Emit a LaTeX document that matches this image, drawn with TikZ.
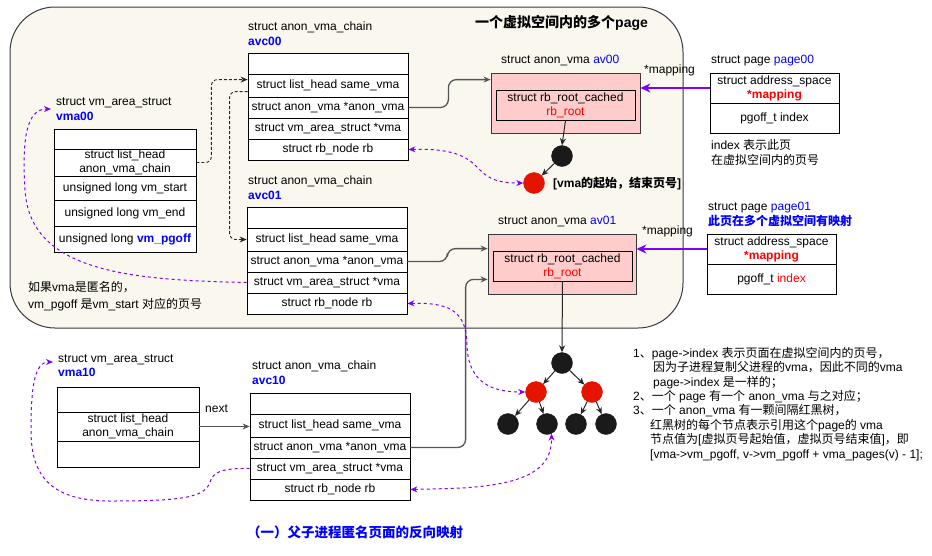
\documentclass[tikz,border=0pt]{standalone}
\usepackage{fontspec}
\setmainfont{Liberation Sans}
\newfontfamily\cjk{Noto Sans CJK SC}
\usetikzlibrary{arrows.meta,calc}
\definecolor{bgbox}{HTML}{F9F7EE}
\definecolor{edgegray}{HTML}{36393D}
\definecolor{pinkf}{HTML}{FFCCCC}
\definecolor{purp}{HTML}{7F00FF}
\definecolor{rbred}{HTML}{E51400}
\definecolor{rbblack}{HTML}{1A1A1A}
\definecolor{lblue}{HTML}{0000FF}
\definecolor{lred}{HTML}{FF0000}
\definecolor{linkgray}{HTML}{555555}
\newcommand\zh[1]{{\cjk #1}}
\newcommand\bl[1]{\textcolor{lblue}{#1}}
\newcommand\fs{\fontsize{12}{14}\selectfont}
\newcommand\tcell[6]{\node[cell, minimum width={(#4-#2)*1pt}, minimum height={(#5-#3)*1pt}] (#1) at ({(#2+#4)/2},{(#3+#5)/2}) {#6};}
\newcommand\lbl[4]{\node[lab] (#1) at (#2,#3) {#4};}
\tikzset{
  cell/.style={draw=black, fill=white, line width=0.8pt, inner sep=0pt, align=center, font=\fs},
  lab/.style={anchor=west, inner sep=0pt, text height=9pt, text depth=2.5pt, font=\fs},
  pinkbox/.style={draw=edgegray, fill=pinkf, line width=0.8pt, inner sep=0pt},
  innerbox/.style={draw=black, fill=pinkf, line width=0.8pt, inner sep=0pt, align=center, font=\fs},
  bnode/.style={circle, fill=rbblack, draw=rbblack, minimum size=21pt, inner sep=0pt},
  rnode/.style={circle, fill=rbred, draw=rbred, minimum size=21pt, inner sep=0pt},
  tip/.style={-{Stealth[length=7pt,width=6pt]}},
  link/.style={draw=linkgray, line width=1.3pt, rounded corners=8pt, tip},
  tarrow/.style={draw=black!85, line width=1pt, tip},
  bdash/.style={draw=black!85, line width=0.9pt, dash pattern=on 3pt off 2pt, rounded corners=6pt},
  pdash/.style={draw=purp, line width=1pt, dash pattern=on 3pt off 3pt},
  ptip/.style={-{Stealth[length=7pt,width=6pt]}},
  pboth/.style={{Stealth[length=7pt,width=6pt]}-{Stealth[length=7pt,width=6pt]}},
  maparrow/.style={draw=purp, line width=2pt, -{Stealth[length=10pt,width=9pt]}},
}
\begin{document}
\begin{tikzpicture}[x=1pt,y=-1pt]
\useasboundingbox (0,0) rectangle (932,555);
\fill[white] (0,0) rectangle (932,555);
% container
\draw[rounded corners=45pt, fill=bgbox, draw=edgegray, line width=1pt] (10,7) rectangle (683,328);
\node[lab, font=\fontsize{14}{16}\selectfont\bfseries, text height=11pt, text depth=3pt] (title) at (475,23) {\zh{一个虚拟空间内的多个}page};

% ---- avc00
\lbl{lavc00a}{248}{27}{struct anon\_vma\_chain}
\lbl{lavc00b}{248}{42}{\bl{\textbf{avc00}}}
\tcell{avc00e}{248}{53}{408}{74}{}
\tcell{avc00s}{248}{74}{408}{97}{struct list\_head same\_vma}
\tcell{avc00a}{248}{97}{408}{118}{struct anon\_vma *anon\_vma}
\tcell{avc00v}{248}{118}{408}{139}{struct vm\_area\_struct *vma}
\tcell{avc00r}{248}{139}{408}{160}{struct rb\_node rb}

% ---- vma00
\lbl{lvma00a}{56}{102}{struct vm\_area\_struct}
\lbl{lvma00b}{56}{117}{\bl{\textbf{vma00}}}
\tcell{vma00e}{54}{129}{196}{149}{}
\tcell{vma00l}{54}{149}{196}{176}{struct list\_head\\anon\_vma\_chain}
\tcell{vma00s}{54}{176}{196}{200}{unsigned long vm\_start}
\tcell{vma00n}{54}{200}{196}{226}{unsigned long vm\_end}
\tcell{vma00p}{54}{226}{196}{252}{unsigned long \bl{\textbf{vm\_pgoff}}}
\coordinate (vma00tip) at (51,109);

% ---- avc01
\lbl{lavc01a}{248}{181}{struct anon\_vma\_chain}
\lbl{lavc01b}{248}{196}{\bl{\textbf{avc01}}}
\tcell{avc01e}{247}{207}{407}{228}{}
\tcell{avc01s}{247}{228}{407}{251}{struct list\_head same\_vma}
\tcell{avc01a}{247}{251}{407}{272}{struct anon\_vma *anon\_vma}
\tcell{avc01v}{247}{272}{407}{293}{struct vm\_area\_struct *vma}
\tcell{avc01r}{247}{293}{407}{314}{struct rb\_node rb}

% note lower-left
\lbl{note1}{28}{288}{\zh{如果}vma\zh{是匿名的，}}
\lbl{note2}{28}{305}{vm\_pgoff \zh{是}vm\_start \zh{对应的页号}}

% ---- av00
\lbl{lav00}{501}{60}{struct anon\_vma \bl{av00}}
\node[pinkbox, minimum width=149pt, minimum height=60pt] (av00) at (565.5,103) {};
\node[innerbox, minimum width=139pt, minimum height=30pt] (av00in) at (565.5,105) {struct rb\_root\_cached\\\textcolor{lred}{rb\_root}};
\node[bnode] (b00) at (562,156) {};
\node[rnode] (r00) at (534,183) {};
\lbl{lr00}{553}{184}{\bfseries [vma\zh{的起始，结束页号}]}
\draw[tarrow] (av00in.south) -- (b00.north);
\draw[tarrow] (b00) -- (r00);

% ---- page00
\lbl{lpage00}{711}{60}{struct page \bl{page00}}
\tcell{p00m}{710}{73}{839}{103}{struct address\_space\\\textcolor{lred}{\textbf{*mapping}}}
\tcell{p00i}{710}{103}{839}{133}{pgoff\_t index}
\lbl{lidx1}{711}{146}{index \zh{表示此页}}
\lbl{lidx2}{711}{161}{\zh{在虚拟空间内的页号}}
\draw[maparrow] (p00m.west) -- (p00m.west -| av00.east);
\lbl{lmap0}{644}{70}{*mapping}

% ---- av01
\lbl{lav01}{498}{221}{struct anon\_vma \bl{av01}}
\node[pinkbox, minimum width=148pt, minimum height=60pt] (av01) at (562,264) {};
\node[innerbox, minimum width=139pt, minimum height=30pt] (av01in) at (562.5,266) {struct rb\_root\_cached\\\textcolor{lred}{rb\_root}};

% ---- page01
\lbl{lpage01a}{708}{207}{struct page \bl{page01}}
\lbl{lpage01b}{708}{222}{\bl{\textbf{\zh{此页在多个虚拟空间有映射}}}}
\tcell{p01m}{707}{234}{836}{264}{struct address\_space\\\textcolor{lred}{\textbf{*mapping}}}
\tcell{p01i}{707}{264}{836}{294}{pgoff\_t \textcolor{lred}{index}}
\draw[maparrow] (p01m.west) -- (p01m.west -| av01.east);
\lbl{lmap1}{642}{231}{*mapping}

% ---- rb tree
\node[bnode] (t0) at (562,363) {};
\node[rnode] (t1) at (536,392) {};
\node[rnode] (t2) at (592,392) {};
\node[bnode] (t3) at (508,424) {};
\node[bnode] (t4) at (547,424) {};
\node[bnode] (t5) at (576,424) {};
\node[bnode] (t6) at (606,424) {};
\draw[tarrow] (av01in.south) -- (t0.north);
\draw[tarrow] (t0) -- (t1);
\draw[tarrow] (t0) -- (t2);
\draw[tarrow] (t1) -- (t3);
\draw[tarrow] (t1) -- (t4);
\draw[tarrow] (t2) -- (t5);
\draw[tarrow] (t2) -- (t6);

% ---- vma10
\lbl{lvma10a}{58}{359}{struct vm\_area\_struct}
\lbl{lvma10b}{58}{373}{\bl{\textbf{vma10}}}
\tcell{vma10e}{57}{387}{199}{412}{}
\tcell{vma10l}{57}{412}{199}{441}{struct list\_head\\anon\_vma\_chain}
\tcell{vma10f}{57}{441}{199}{467}{}
\coordinate (vma10tip) at (53,362);

% ---- avc10
\lbl{lavc10a}{252}{366}{struct anon\_vma\_chain}
\lbl{lavc10b}{252}{381}{\bl{\textbf{avc10}}}
\tcell{avc10e}{250}{393}{410}{414}{}
\tcell{avc10s}{250}{414}{410}{437}{struct list\_head same\_vma}
\tcell{avc10a}{250}{437}{410}{458}{struct anon\_vma *anon\_vma}
\tcell{avc10v}{250}{458}{410}{479}{struct vm\_area\_struct *vma}
\tcell{avc10r}{250}{479}{410}{500}{struct rb\_node rb}

\draw[tarrow, draw=linkgray] (vma10l.east) -- (vma10l.east -| avc10s.west);
\lbl{lnext}{205}{409}{next}

% ---- anon_vma links
\draw[link] (avc00a.east) -- ++(40,0) |- ([yshift=-7pt]av00.north west);
\draw[link] (avc01a.east) -- ++(40,0) |- ([yshift=-15pt]av01.north west);
\draw[link] (avc10a.east) -| ([xshift=-22pt,yshift=15pt]av01.south west) -- ([yshift=15pt]av01.south west);

% ---- dashed list links
\draw[bdash, tip] (vma00l.east) -- ++(15,0) |- ([yshift=-6pt]avc00s.north west);
\draw[bdash, tip] ([yshift=-18pt]avc00s.north west) -- ++(-18,0) |- (avc01s.west);

% ---- purple dashed links
\draw[pdash, ptip] (avc01v.west) .. controls (130,280) and (30,272) .. (25,190) .. controls (22,140) and (26,109) .. (vma00tip);
\draw[pdash, pboth] (avc00r.east) .. controls (460,148) and (470,160) .. (480,170) .. controls (490,180) and (500,183) .. (r00.west);
\draw[pdash, pboth] (avc01r.east) .. controls (455,302) and (466,315) .. (467,345) .. controls (468,385) and (495,392) .. (t1.west);
\draw[pdash, pboth] (avc10r.east) -- (450,488.5) .. controls (525,486) and (552,470) .. (t4.-65);
\draw[pdash, ptip] (avc10v.west) .. controls (222,468) and (213,472) .. (210,482) .. controls (205,498) and (180,501) .. (110,501) .. controls (45,501) and (31,470) .. (31,430) .. controls (31,385) and (35,362) .. (vma10tip);

% ---- right notes
\lbl{n1}{633}{354}{1\zh{、}page->index \zh{表示页面在虚拟空间内的页号，}}
\lbl{n2}{653}{368}{\zh{因为子进程复制父进程的}vma\zh{，因此不同的}vma}
\lbl{n3}{653}{383}{page->index \zh{是一样的；}}
\lbl{n4}{633}{397}{2\zh{、一个} page \zh{有一个} anon\_vma \zh{与之对应；}}
\lbl{n5}{633}{411}{3\zh{、一个} anon\_vma \zh{有一颗间隔红黑树，}}
\lbl{n6}{650}{426}{\zh{红黑树的每个节点表示引用这个}page\zh{的} vma}
\lbl{n7}{650}{440}{\zh{节点值为}[\zh{虚拟页号起始值，虚拟页号结束值}]\zh{，即}}
\lbl{n8}{650}{455}{[vma->vm\_pgoff, v->vm\_pgoff + vma\_pages(v) - 1];}

% ---- caption
\node[lab, font=\fontsize{13.5}{15}\selectfont\bfseries, text height=10pt, text depth=3pt] (caption) at (247,534) {\bl{\zh{（一）父子进程匿名页面的反向映射}}};
\end{tikzpicture}
\end{document}
